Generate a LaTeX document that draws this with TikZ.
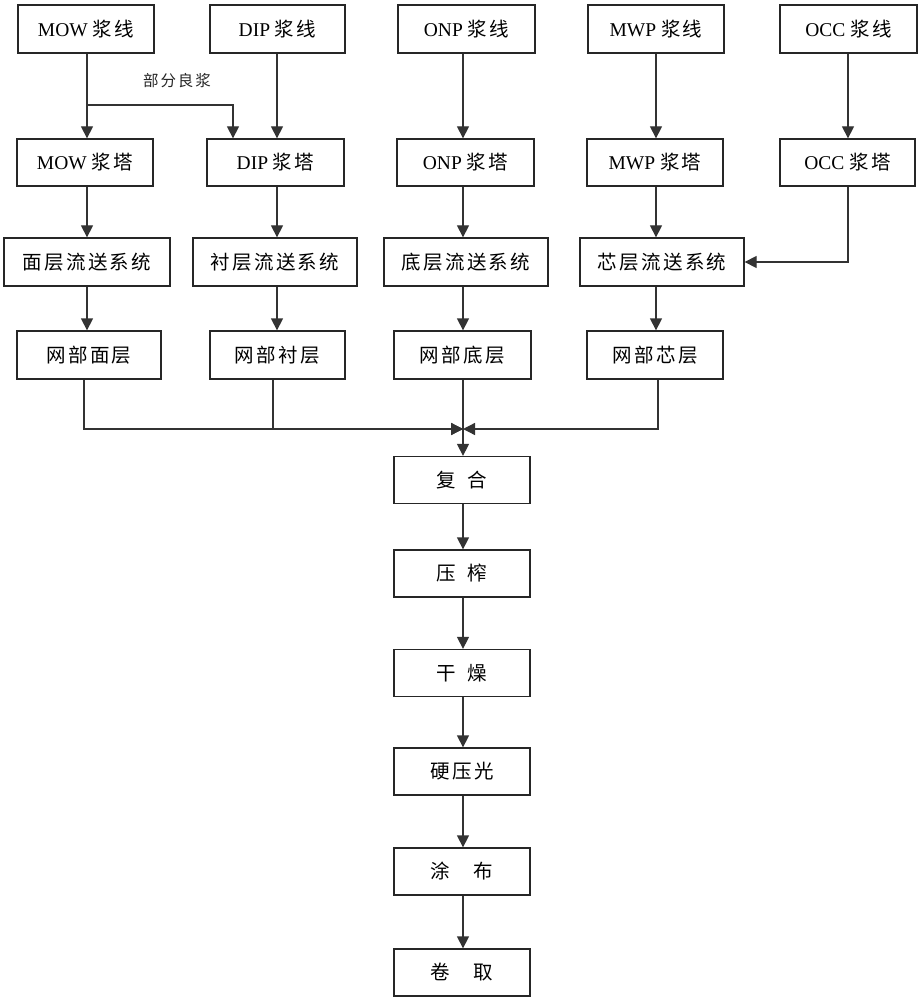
\documentclass[tikz,border=0pt]{standalone}
\usepackage{fontspec}
\setmainfont{Liberation Serif}
\newfontfamily\cjk[LetterSpace=12]{Noto Sans CJK SC}
\usetikzlibrary{arrows.meta}
\tikzset{
  box/.style={draw=black!85, line width=1.3pt, inner sep=0pt, font=\fontsize{19.5}{22}\selectfont},
  arr/.style={draw=black!80, line width=1.3pt, -{Triangle[length=12pt,width=12pt]}},
  ln/.style={draw=black!80, line width=1.3pt},
}
\begin{document}
\begin{tikzpicture}[x=1pt,y=-1pt]
\useasboundingbox (0,0) rectangle (921,1000);
% column coordinates
\coordinate (colA) at (87,0);
\coordinate (colB) at (277,0);
\coordinate (colC) at (463,0);
\coordinate (colD) at (656,0);
\coordinate (colE) at (848,0);
\coordinate (bx) at (233,0);
% row 1
\node[box, minimum width=136, minimum height=48] (mowL) at (86,29) {MOW {\cjk 浆线}};
\node[box, minimum width=135, minimum height=48] (dipL) at (277.5,29) {DIP {\cjk 浆线}};
\node[box, minimum width=137, minimum height=48] (onpL) at (466.5,29) {ONP {\cjk 浆线}};
\node[box, minimum width=136, minimum height=48] (mwpL) at (656,29) {MWP {\cjk 浆线}};
\node[box, minimum width=137, minimum height=48] (occL) at (848.5,29) {OCC {\cjk 浆线}};
% row 2
\node[box, minimum width=136, minimum height=47] (mowT) at (85,162.5) {MOW {\cjk 浆塔}};
\node[box, minimum width=137, minimum height=47] (dipT) at (275.5,162.5) {DIP {\cjk 浆塔}};
\node[box, minimum width=137, minimum height=47] (onpT) at (465.5,162.5) {ONP {\cjk 浆塔}};
\node[box, minimum width=136, minimum height=47] (mwpT) at (655,162.5) {MWP {\cjk 浆塔}};
\node[box, minimum width=135, minimum height=47] (occT) at (847.5,162.5) {OCC {\cjk 浆塔}};
% row 3
\node[box, minimum width=166, minimum height=48] (mian) at (87,262) {\cjk 面层流送系统};
\node[box, minimum width=164, minimum height=48] (chen) at (275,262) {\cjk 衬层流送系统};
\node[box, minimum width=164, minimum height=48] (di) at (466,262) {\cjk 底层流送系统};
\node[box, minimum width=164, minimum height=48] (xin) at (662,262) {\cjk 芯层流送系统};
% row 4
\node[box, minimum width=144, minimum height=48] (wmian) at (89,355) {\cjk 网部面层};
\node[box, minimum width=135, minimum height=48] (wchen) at (277.5,355) {\cjk 网部衬层};
\node[box, minimum width=137, minimum height=48] (wdi) at (462.5,355) {\cjk 网部底层};
\node[box, minimum width=136, minimum height=48] (wxin) at (655,355) {\cjk 网部芯层};
% spine
\node[box, minimum width=136, minimum height=47] (fuhe) at (462,480) {\cjk 复\hspace{0.6em}合};
\node[box, minimum width=136, minimum height=47] (yazha) at (462,573.5) {\cjk 压\hspace{0.6em}榨};
\node[box, minimum width=136, minimum height=47] (ganzao) at (462,673) {\cjk 干\hspace{0.6em}燥};
\node[box, minimum width=136, minimum height=47] (yingya) at (462,771.5) {\cjk 硬压光};
\node[box, minimum width=136, minimum height=47] (tubu) at (462,871.5) {\cjk 涂\hspace{1.2em}布};
\node[box, minimum width=136, minimum height=47] (juanqu) at (462,972.5) {\cjk 卷\hspace{1.2em}取};
% label
\node[font=\fontsize{15.5}{17}\selectfont, text=black!85] (lbl) at (177,81) {\cjk 部分良浆};
% junction points
\coordinate (br) at (87,105);
\coordinate (jn) at (463,429);
% row1 -> row2
\draw[arr] (mowL.south -| colA) -- (mowT.north -| colA);
\draw[arr] (br) -| (dipT.north -| bx);
\draw[arr] (dipL.south -| colB) -- (dipT.north -| colB);
\draw[arr] (onpL.south -| colC) -- (onpT.north -| colC);
\draw[arr] (mwpL.south -| colD) -- (mwpT.north -| colD);
\draw[arr] (occL.south -| colE) -- (occT.north -| colE);
% row2 -> row3
\draw[arr] (mowT.south -| colA) -- (mian.north -| colA);
\draw[arr] (dipT.south -| colB) -- (chen.north -| colB);
\draw[arr] (onpT.south -| colC) -- (di.north -| colC);
\draw[arr] (mwpT.south -| colD) -- (xin.north -| colD);
\draw[arr] (occT.south -| colE) |- (xin.east);
% row3 -> row4
\draw[arr] (mian.south -| colA) -- (wmian.north -| colA);
\draw[arr] (chen.south -| colB) -- (wchen.north -| colB);
\draw[arr] (di.south -| colC) -- (wdi.north -| colC);
\draw[arr] (xin.south -| colD) -- (wxin.north -| colD);
% merge
\draw[arr] (wmian.south -| 84,0) |- (jn);
\draw[arr] (wchen.south -| 273,0) |- (jn);
\draw[arr] (wxin.south -| 658,0) |- (jn);
\draw[arr] (wdi.south -| colC) -- (fuhe.north -| colC);
% spine
\draw[arr] (fuhe.south -| colC) -- (yazha.north -| colC);
\draw[arr] (yazha.south -| colC) -- (ganzao.north -| colC);
\draw[arr] (ganzao.south -| colC) -- (yingya.north -| colC);
\draw[arr] (yingya.south -| colC) -- (tubu.north -| colC);
\draw[arr] (tubu.south -| colC) -- (juanqu.north -| colC);
\end{tikzpicture}
\end{document}
